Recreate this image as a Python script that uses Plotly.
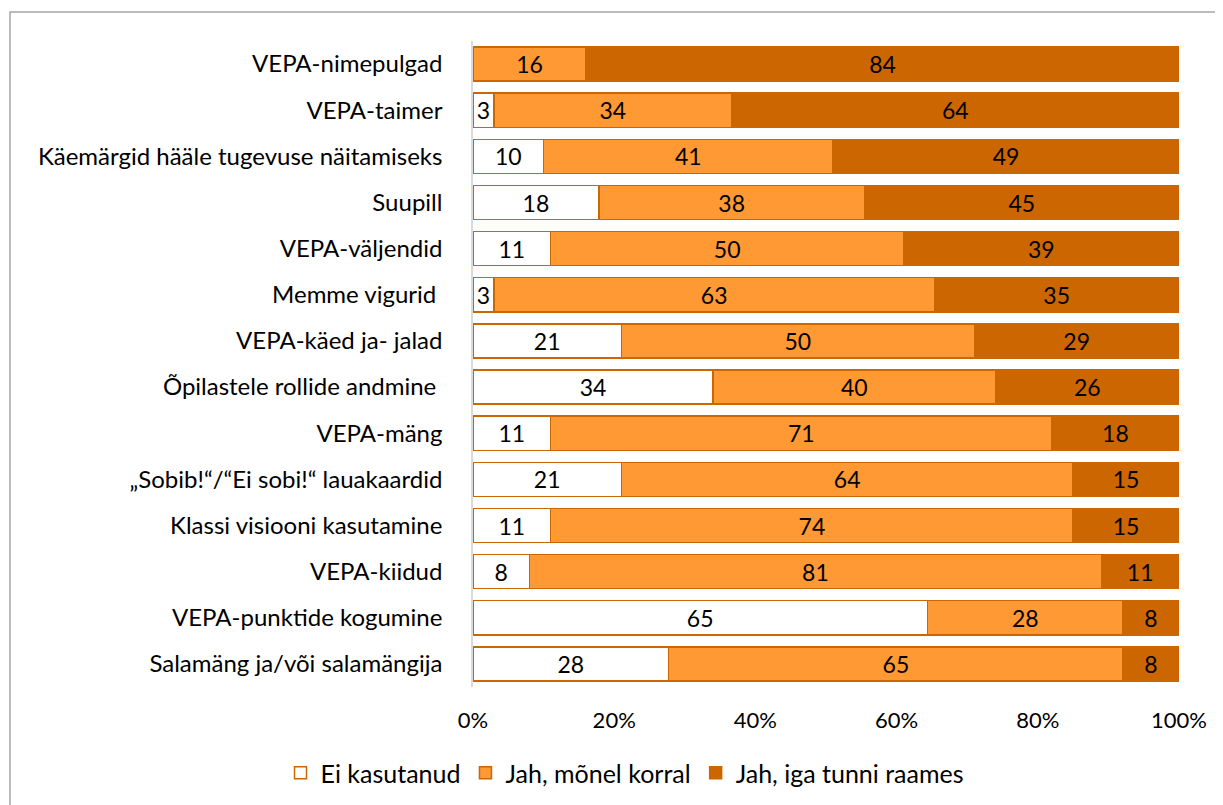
import plotly.graph_objects as go

# ── Data ──────────────────────────────────────────────────────────────────────
categories = [
    "VEPA-nimepulgad",
    "VEPA-taimer",
    "Käemärgid hääle tugevuse näitamiseks",
    "Suupill",
    "VEPA-väljendid",
    "Memme vigurid ",
    "VEPA-käed ja- jalad",
    "Õpilastele rollide andmine ",
    "VEPA-mäng",
    "„Sobib!“/“Ei sobi!“ lauakaardid",
    "Klassi visiooni kasutamine",
    "VEPA-kiidud",
    "VEPA-punktide kogumine",
    "Salamäng ja/või salamängija",
]
ei_kasutanud = [0, 3, 10, 18, 11, 3, 21, 34, 11, 21, 11, 8, 65, 28]
moni_kord    = [16, 34, 41, 38, 50, 63, 50, 40, 71, 64, 74, 81, 28, 65]
iga_tund     = [84, 64, 49, 45, 39, 35, 29, 26, 18, 15, 15, 11, 8, 8]

series_names = ["Ei kasutanud", "Jah, mõnel korral", "Jah, iga tunni raames"]
tick_vals    = [0, 20, 40, 60, 80, 100]
tick_text    = ["0%", "20%", "40%", "60%", "80%", "100%"]

FONT = "Lato, Carlito, Calibri, sans-serif"
FSIZE = 23
EDGE = "#CC6600"
fills = ["#FFFFFF", "#FF9933", "#CC6600"]

fig = go.Figure()
for name, vals, colour in zip(series_names, [ei_kasutanud, moni_kord, iga_tund], fills):
    fig.add_trace(go.Bar(
        y            = categories,
        x            = vals,
        name         = name,
        orientation  = "h",
        marker       = dict(color=colour, line=dict(color=EDGE, width=1.5)),
        text         = [str(v) if v else "" for v in vals],
        textposition = "inside",
        insidetextanchor = "middle",
        textangle    = 0,
        textfont     = dict(family=FONT, size=FSIZE, color="#000000"),
        cliponaxis   = False,
        hovertemplate = f"<b>{name}</b><br>%{{y}}: %{{text}}<extra></extra>",
    ))

# The page body adds an 8px margin, so the figure is laid out 8px smaller
FIG_W, FIG_H = 1215, 797
L, R, T, B = 465, 44, 33, 118
W, H = FIG_W - L - R, FIG_H - T - B

# Outer frame (runs off the right and bottom edges like the source image)
fig.add_shape(
    type="rect", xref="paper", yref="paper",
    x0=(2 - L) / W, x1=(FIG_W + 20 - L) / W,
    y0=-(FIG_H + 20 - (FIG_H - B)) / H, y1=(FIG_H - B - 4) / H,
    line=dict(color="#A6A6A6", width=1.5), fillcolor="rgba(0,0,0,0)", layer="below",
)

fig.update_layout(
    width  = FIG_W,
    height = FIG_H,
    barmode = "stack",
    barnorm = "percent",
    bargap  = 0.26,
    paper_bgcolor = "#FFFFFF",
    plot_bgcolor  = "#FFFFFF",
    margin = dict(l=L, r=R, t=T, b=B, autoexpand=False),
    font   = dict(family=FONT, size=FSIZE, color="#000000"),
    uniformtext = dict(mode="show", minsize=FSIZE),
    xaxis = dict(
        range     = [0, 100],
        tickvals  = tick_vals,
        ticktext  = tick_text,
        showgrid  = False,
        zeroline  = False,
        showline  = False,
        tickfont  = dict(family=FONT, size=FSIZE - 1, color="#000000"),
        ticks     = "",
        ticklabelstandoff = 18,
    ),
    yaxis = dict(
        autorange = "reversed",
        showgrid  = False,
        zeroline  = False,
        showline  = True,
        linecolor = "#D9D9D9",
        linewidth = 1.5,
        ticks     = "",
        tickfont  = dict(family=FONT, size=24, color="#000000"),
        ticklabelstandoff = 24,
    ),
    legend = dict(
        orientation = "h",
        x = (617 - L) / W, xanchor = "center",
        y = (FIG_H - B - 765) / H, yanchor = "middle",
        font = dict(family=FONT, size=25, color="#000000"),
        traceorder = "normal",
        itemwidth = 30,
        bgcolor = "rgba(0,0,0,0)",
    ),
    showlegend = True,
)

fig.write_html("out.html")
